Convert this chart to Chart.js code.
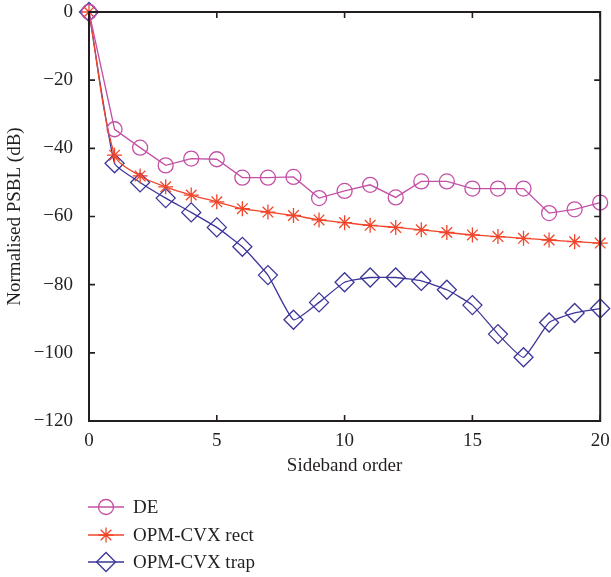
<!DOCTYPE html>
<html>
<head>
<meta charset="utf-8">
<script src="https://cdn.jsdelivr.net/npm/chart.js@4.4.1/dist/chart.umd.min.js"></script>
<style>
  html, body { margin: 0; padding: 0; background: #fff; }
  #wrap { width: 611px; height: 577px; position: relative; }
</style>
</head>
<body>
<div id="wrap"><canvas id="psbl" width="611" height="577"></canvas></div>
<script>
// ============ Data ============

const sidebandOrder = [0, 1, 2, 3, 4, 5, 6, 7, 8, 9, 10, 11, 12, 13, 14, 15, 16, 17, 18, 19, 20];
const deValues = [0, -34.4, -39.8, -45, -43, -43.2, -48.6, -48.6, -48.4, -54.6, -52.5, -50.7, -54.4, -49.7, -49.7, -51.8, -51.8, -51.8, -59, -57.9, -55.9];
const rectValues = [0, -42, -48.1, -51.3, -53.7, -55.7, -57.7, -58.7, -59.7, -61, -61.8, -62.6, -63.2, -63.9, -64.7, -65.4, -65.9, -66.4, -66.9, -67.4, -67.8];
const trapValues = [0, -44.4, -50, -54.6, -58.8, -63.2, -68.9, -77.2, -90.3, -85.2, -79.3, -77.9, -77.9, -78.9, -81.5, -86, -94.5, -101.3, -91.1, -88.3, -87];

const xTicks = [0, 5, 10, 15, 20];
const yTicks = [0, -20, -40, -60, -80, -100, -120];
const seriesNames = ['DE', 'OPM-CVX rect', 'OPM-CVX trap'];

const INK = '#231f20';
const FONT = "'Liberation Serif', 'DejaVu Serif', serif";
const FONT_SIZE = 19;

function toPoints(values) {
    return sidebandOrder.map((x, i) => ({ x: x, y: values[i] }));
}

// ============ Plugins ============

// box around the plot with inward ticks on all four sides
const frameTicks = {
    id: 'frameTicks',
    afterDraw(chart) {
        const { ctx, chartArea: a, scales } = chart;
        ctx.save();
        ctx.strokeStyle = INK;
        ctx.lineWidth = 2;
        ctx.strokeRect(a.left, a.top, a.right - a.left, a.bottom - a.top);
        ctx.lineWidth = 1.6;
        const len = 6;
        ctx.beginPath();
        xTicks.forEach(v => {
            const px = scales.x.getPixelForValue(v);
            ctx.moveTo(px, a.bottom); ctx.lineTo(px, a.bottom - len);
            ctx.moveTo(px, a.top); ctx.lineTo(px, a.top + len);
        });
        yTicks.forEach(v => {
            const py = scales.y.getPixelForValue(v);
            ctx.moveTo(a.left, py); ctx.lineTo(a.left + len, py);
            ctx.moveTo(a.right, py); ctx.lineTo(a.right - len, py);
        });
        ctx.stroke();
        ctx.restore();
    }
};

// matlab-ish legend under the axes: short line + marker + name
const bottomLegend = {
    id: 'bottomLegend',
    afterDraw(chart) {
        const ctx = chart.ctx;
        const left = chart.chartArea.left - 1;
        const rows = [507, 535, 562];
        ctx.save();
        chart.data.datasets.forEach((ds, i) => {
            const y = rows[i];
            ctx.strokeStyle = ds.borderColor;
            ctx.fillStyle = 'rgba(0,0,0,0)';
            ctx.lineWidth = 1.3;
            ctx.beginPath();
            ctx.moveTo(left, y);
            ctx.lineTo(left + 36, y);
            ctx.stroke();
            Chart.helpers.drawPoint(ctx, {
                pointStyle: ds.pointStyle,
                radius: ds.pointRadius,
                borderWidth: ds.pointBorderWidth
            }, left + 18, y);
            ctx.fillStyle = INK;
            ctx.font = FONT_SIZE + 'px ' + FONT;
            ctx.textBaseline = 'middle';
            ctx.textAlign = 'left';
            ctx.fillText(seriesNames[i], left + 45, y + 1);
        });
        ctx.restore();
    }
};

// ============ Chart ============

function makeSeries(label, values, color, style, radius, tension) {
    return {
        label: label,
        data: toPoints(values),
        borderColor: color,
        backgroundColor: 'rgba(0,0,0,0)',
        borderWidth: 1.3,
        pointStyle: style,
        pointRadius: radius,
        pointBorderColor: color,
        pointBackgroundColor: 'rgba(0,0,0,0)',
        pointBorderWidth: 1.3,
        tension: tension,
        clip: false
    };
}

const ctx = document.getElementById('psbl').getContext('2d');

new Chart(ctx, {
    type: 'line',
    data: {
        datasets: [
            makeSeries(seriesNames[0], deValues, '#c450a6', 'circle', 7.5, 0),
            makeSeries(seriesNames[1], rectValues, '#f0452a', 'star', 7.5, 0.3),
            makeSeries(seriesNames[2], trapValues, '#3b3699', 'rectRot', 9.5, 0.15)
        ]
    },
    options: {
        responsive: false,
        animation: false,
        layout: { padding: { left: 0, top: 12, right: 10, bottom: 100 } },
        plugins: {
            legend: { display: false },
            tooltip: { enabled: false }
        },
        scales: {
            x: {
                type: 'linear',
                min: 0,
                max: 20,
                afterBuildTicks: s => { s.ticks = xTicks.map(v => ({ value: v })); },
                afterFit: s => { s.height = 56; s.paddingLeft = 0; s.paddingRight = 0; },
                grid: { display: false },
                border: { display: false },
                ticks: { color: INK, font: { family: FONT, size: FONT_SIZE }, padding: 1, maxRotation: 0 },
                title: {
                    display: true,
                    text: 'Sideband order',
                    color: INK,
                    font: { family: FONT, size: FONT_SIZE },
                    padding: { top: 0, bottom: 0 }
                }
            },
            y: {
                min: -120,
                max: 0,
                afterBuildTicks: s => { s.ticks = yTicks.map(v => ({ value: v })); },
                afterFit: s => { s.width = 89; s.paddingTop = 0; s.paddingBottom = 0; },
                grid: { display: false },
                border: { display: false },
                ticks: {
                    color: INK,
                    font: { family: FONT, size: FONT_SIZE },
                    padding: 8,
                    callback: v => String(v).replace('-', '\u2212')
                },
                title: {
                    display: true,
                    text: 'Normalised PSBL (dB)',
                    color: INK,
                    font: { family: FONT, size: FONT_SIZE },
                    padding: { top: 4, bottom: 0 }
                }
            }
        }
    },
    plugins: [frameTicks, bottomLegend]
});
</script>
</body>
</html>
